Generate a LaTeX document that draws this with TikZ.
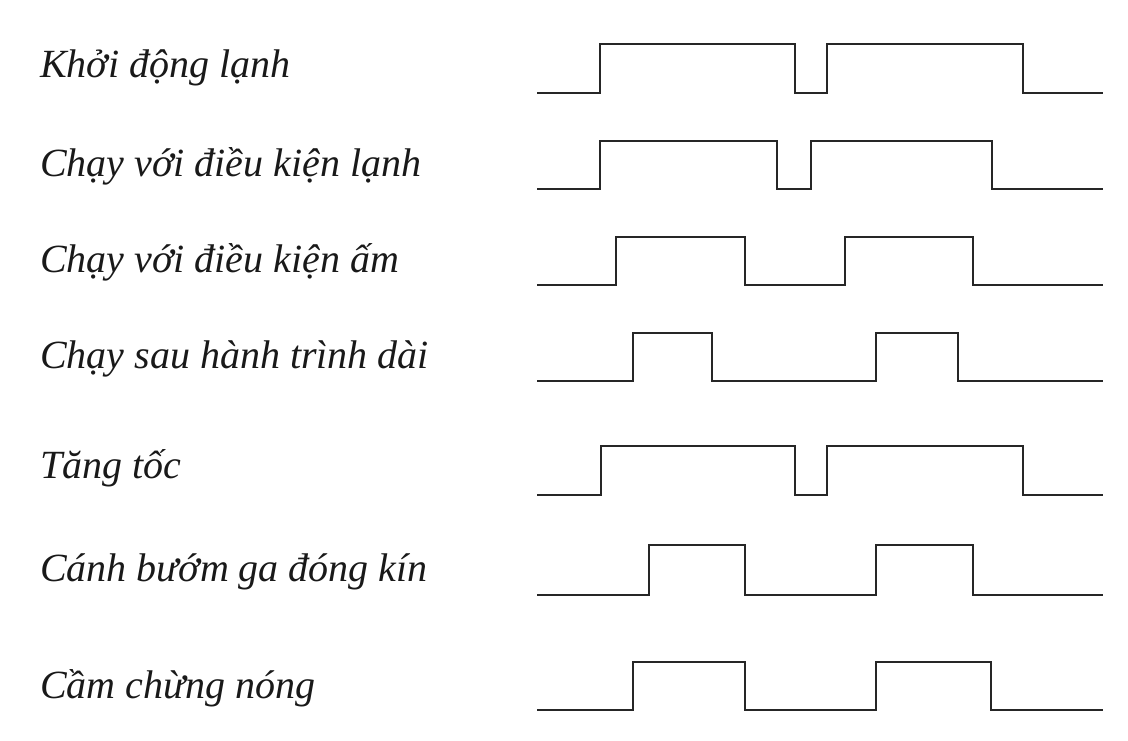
\documentclass[tikz,border=0pt]{standalone}
\usepackage{fontspec}
\setmainfont{Liberation Serif}
\newcommand\wavesig[6]{\draw[wave] (537,#1) -- (#3,#1) -- (#3,#2) -- (#4,#2) -- (#4,#1) -- (#5,#1) -- (#5,#2) -- (#6,#2) -- (#6,#1) -- (1103,#1);}
\begin{document}
\begin{tikzpicture}[x=1pt,y=-1pt,
  wave/.style={line width=2.9pt, line join=miter, draw=black!85},
  lbl/.style={anchor=base west, inner sep=0pt, text=black!90, font=\fontsize{40}{48}\selectfont\itshape}]
\useasboundingbox (0,0) rectangle (1128,740);
\node[lbl] (l1) at (40,77) {Khởi động lạnh};
\node[lbl] (l2) at (40,176) {Chạy với điều kiện lạnh};
\node[lbl] (l3) at (40,272) {Chạy với điều kiện ấm};
\node[lbl] (l4) at (40,368) {Chạy sau hành trình dài};
\node[lbl] (l5) at (40,478) {Tăng tốc};
\node[lbl] (l6) at (40,581) {Cánh bướm ga đóng kín};
\node[lbl] (l7) at (40,698) {Cầm chừng nóng};
\wavesig{93}{44}{600}{795}{827}{1023}
\wavesig{189}{141}{600}{777}{811}{992}
\wavesig{285}{237}{616}{745}{845}{973}
\wavesig{381}{333}{633}{712}{876}{958}
\wavesig{495}{446}{601}{795}{827}{1023}
\wavesig{595}{545}{649}{745}{876}{973}
\wavesig{710}{662}{633}{745}{876}{991}
\end{tikzpicture}
\end{document}
